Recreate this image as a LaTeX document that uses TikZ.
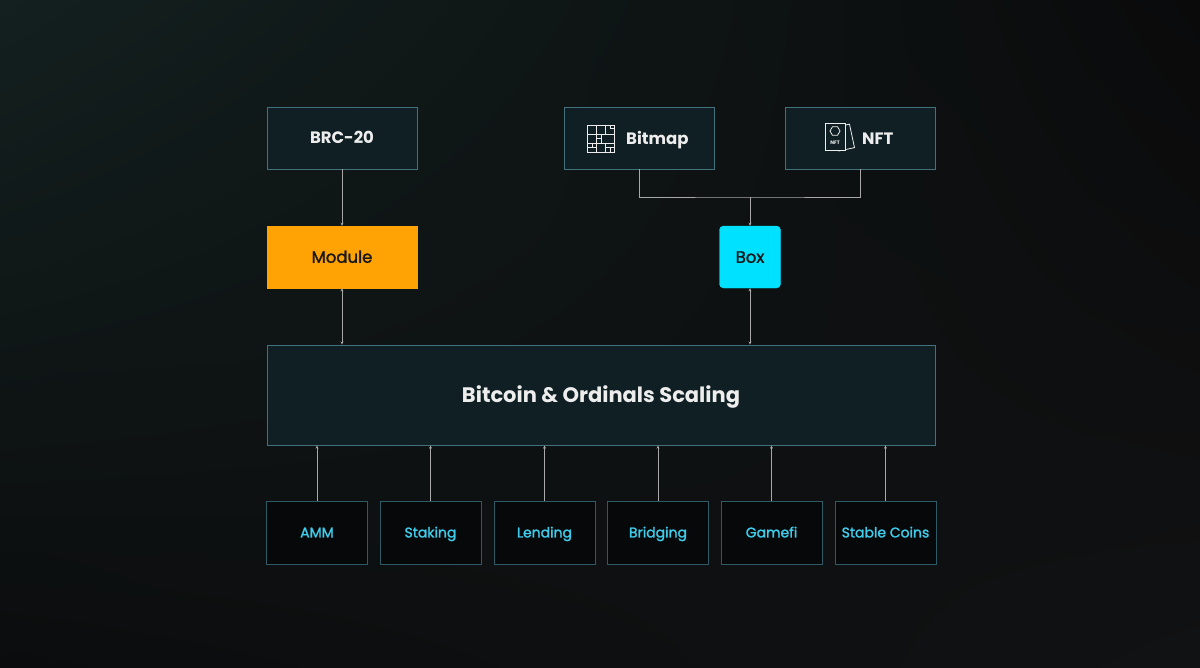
\documentclass[tikz,border=0pt]{standalone}
\usepackage{fontspec}
\setmainfont{Poppins}
\newfontfamily\medfont[FakeBold=1.6]{Poppins}
\usetikzlibrary{arrows.meta,shapes.geometric,shadings}
\definecolor{bgA}{HTML}{13201F}
\definecolor{bgB}{HTML}{0A0A0B}
\definecolor{bgC}{HTML}{0B0C0D}
\definecolor{bgD}{HTML}{111213}
\definecolor{topfill}{HTML}{0F1F23}
\definecolor{topline}{HTML}{42707C}
\definecolor{botfill}{HTML}{060809}
\definecolor{botline}{HTML}{2E5A66}
\definecolor{cyantext}{HTML}{3FCBEA}
\definecolor{orangefill}{HTML}{FFA304}
\definecolor{cyanfill}{HTML}{00E1FF}
\definecolor{conncol}{HTML}{A8A8A8}
\definecolor{whitetext}{HTML}{EDEDED}
\tikzset{
  topbox/.style={draw=topline, fill=topfill, line width=0.9pt, minimum width=150pt, minimum height=62pt, inner sep=0pt, text=whitetext, font=\fontsize{16.5}{18}\selectfont\bfseries, text height=11.5pt, text depth=0pt},
  botbox/.style={draw=botline, fill=botfill, line width=0.9pt, minimum width=101pt, minimum height=63pt, inner sep=0pt, text=cyantext, font=\fontsize{14}{16}\selectfont\medfont, text height=9.8pt, text depth=0pt},
  midlbl/.style={inner sep=0pt, text=black!90, font=\fontsize{16.5}{18}\selectfont\medfont, text height=11.5pt, text depth=0pt, minimum height=62pt},
  conn/.style={draw=conncol, line width=0.7pt},
  tip/.style={-{Stealth[length=3.2pt,width=3pt]}},
  dtip/.style={{Stealth[length=3.2pt,width=3pt]}-{Stealth[length=3.2pt,width=3pt]}},
  icon/.style={draw=whitetext, line width=0.8pt}
}
\begin{document}
\begin{tikzpicture}[x=1pt,y=-1pt]
\useasboundingbox (0,0) rectangle (1200,667);
\shade[upper left=bgA, upper right=bgB, lower left=bgC, lower right=bgD] (0,0) rectangle (1200,667);

% top row
\node[topbox] (brc) at (342,138) {BRC-20};
\node[topbox] (bitmap) at (639.5,138) {};
\node[topbox] (nft) at (860,138) {};
\node[anchor=west, text=whitetext, font=\fontsize{16.5}{18}\selectfont\bfseries, inner sep=0pt, text height=11.5pt, text depth=0pt] (bitmaplbl) at (626,138.5) {Bitmap};
\node[anchor=west, text=whitetext, font=\fontsize{16.5}{18}\selectfont\bfseries, inner sep=0pt, text height=11.5pt, text depth=0pt] (nftlbl) at (862,138.5) {NFT};

% bitmap icon
\draw[icon] (587,125) rectangle (614,152);
\draw[icon] (587,134) -- (614,134);
\draw[icon] (587,143) -- (614,143);
\draw[icon] (596,125) -- (596,152);
\draw[icon] (605,125) -- (605,134);
\draw[icon] (601,134) -- (601,143);
\draw[icon] (605,143) -- (605,152);
\draw[icon] (610,128) -- (614,128);
\draw[icon] (610,125) -- (610,128);
\draw[icon] (592,143) -- (592,147);
\draw[icon] (587,147) -- (596,147);
\draw[icon] (605,147) -- (614,147);
\draw[icon] (610,147) -- (610,152);
\draw[icon] (601,143) -- (601,138) -- (596,138);

% nft icon
\draw[icon, rotate around={12:(842,137)}] (836,126) rectangle (852,150);
\fill[topfill] (825,123) rectangle (845,151);
\draw[icon] (825.5,123.5) rectangle (845,150.5);
\node[regular polygon, regular polygon sides=6, draw=whitetext, line width=0.8pt, minimum size=10pt, inner sep=0pt] (hex) at (835,131) {};
\node[text=whitetext, font=\fontsize{5}{5}\selectfont\bfseries, inner sep=0pt] (nfttiny) at (835,143) {NFT};

% middle row
\node[midlbl, draw=orangefill, fill=orangefill, minimum width=150pt] (module) at (342,257) {Module};
\node[midlbl, draw=cyanfill, fill=cyanfill, rounded corners=4pt, minimum width=61pt] (boxn) at (750,257) {Box};

% main box
\node[draw=topline, fill=topfill, line width=0.9pt, minimum width=668pt, minimum height=100pt, inner sep=0pt, text=whitetext, font=\fontsize{21}{24}\selectfont\bfseries, text height=14.7pt, text depth=0pt] (main) at (601,395) {Bitcoin \& Ordinals Scaling};

% bottom row
\node[botbox] (amm) at (317,532.5) {AMM};
\node[botbox] (staking) at (430.5,532.5) {Staking};
\node[botbox] (lending) at (544.5,532.5) {Lending};
\node[botbox] (bridging) at (658,532.5) {Bridging};
\node[botbox] (gamefi) at (771.5,532.5) {Gamefi};
\node[botbox] (stable) at (885.5,532.5) {Stable Coins};

% connectors
\coordinate (join) at (750,197);
\draw[conn,tip] (brc.south) -- (module.north);
\draw[conn] (bitmap.south) |- (join) -| (nft.south);
\draw[conn,tip] (join) -- (boxn.north);
\draw[conn,dtip] (module.south) -- (module.south |- main.north);
\draw[conn,dtip] (boxn.south) -- (boxn.south |- main.north);
\foreach \n in {amm,staking,lending,bridging,gamefi,stable}{
  \draw[conn,tip] (\n.north) -- (\n.north |- main.south);
}
\end{tikzpicture}
\end{document}
